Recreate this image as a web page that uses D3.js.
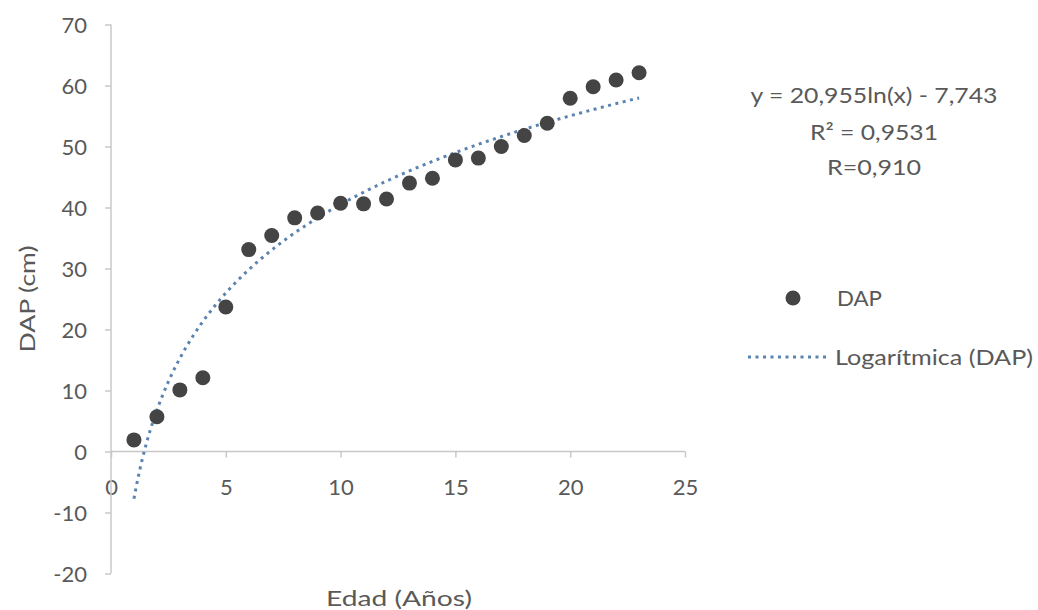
<!DOCTYPE html>
<html>
<head>
<meta charset="utf-8">
<script src="https://cdn.jsdelivr.net/npm/d3@7"></script>
<style>
  html, body { margin: 0; padding: 0; background: #fff; }
  svg { display: block; }
  text { font-family: "Lato", "Open Sans", sans-serif; fill: #595959; }
</style>
</head>
<body>
<svg id="chart" width="1038" height="610"></svg>
<script>
// Data
const edad = [1,2,3,4,5,6,7,8,9,10,11,12,13,14,15,16,17,18,19,20,21,22,23];
const dap  = [1.9,5.7,10.1,12.1,23.7,33.1,35.4,38.3,39.1,40.7,40.6,41.4,44.0,44.8,47.8,48.1,50.0,51.8,53.8,57.9,59.8,60.9,62.1];
const xTicks = [0,5,10,15,20,25];
const yTicks = [-20,-10,0,10,20,30,40,50,60,70];
// Trendline coefficients shown in the chart label
const trendA = 20.955, trendB = -7.743;
const trendX0 = 1, trendX1 = 23;
const eqLines = ["y = 20,955ln(x) - 7,743", "R² = 0,9531", "R=0,910"];
const legendLabels = ["DAP", "Logarítmica (DAP)"];
const xTitle = "Edad (Años)", yTitle = "DAP (cm)";

const svg = d3.select("#chart");
const x = d3.scaleLinear().domain([0,25]).range([111,685]);
const y = d3.scaleLinear().domain([-20,70]).range([573.5,24.5]);

const axisColor = "#c8c8c8";
const fontSize = 22;
const fmt = d => String(d);

// X axis at y=0
const gx = svg.append("g").attr("transform", `translate(0,${y(0)})`)
  .call(d3.axisBottom(x).tickValues(xTicks).tickSize(6).tickFormat(fmt));
gx.select(".domain").attr("stroke", axisColor).attr("stroke-width", 1.5).attr("d", `M${x(0)},0H${x(25)}`);
gx.selectAll(".tick line").attr("stroke", axisColor).attr("stroke-width", 1.5);
gx.selectAll(".tick text").attr("y", 43).attr("dy", null)
  .style("font-size", fontSize + "px").attr("fill", "#595959").attr("font-family", null);

// Y axis
const gy = svg.append("g").attr("transform", `translate(${x(0)},0)`)
  .call(d3.axisLeft(y).tickValues(yTicks).tickSize(6).tickFormat(fmt));
gy.select(".domain").attr("stroke", axisColor).attr("stroke-width", 1.5).attr("d", `M0,${y(-20)}V${y(70)}`);
gy.selectAll(".tick line").attr("stroke", axisColor).attr("stroke-width", 1.5);
gy.selectAll(".tick text").attr("x", -24).attr("dy", "0.36em")
  .style("font-size", fontSize + "px").attr("fill", "#595959").attr("font-family", null);

// Trendline
const trendPts = d3.range(trendX0, trendX1 + 0.0001, 0.05).map(v => [v, trendA * Math.log(v) + trendB]);
const line = d3.line().x(d => x(d[0])).y(d => y(d[1]));
svg.append("path").datum(trendPts).attr("d", line)
  .attr("fill", "none").attr("stroke", "#5b83b0").attr("stroke-width", 3)
  .attr("stroke-dasharray", "3 4.5");

// Points
svg.append("g").selectAll("circle").data(edad.map((e,i) => [e, dap[i]])).join("circle")
  .attr("cx", d => x(d[0])).attr("cy", d => y(d[1])).attr("r", 7.5)
  .attr("fill", "#444444");

// Axis titles
svg.append("text").attr("x", 399).attr("y", 606).attr("text-anchor", "middle")
  .style("font-size", fontSize + "px").attr("textLength", 146).attr("lengthAdjust", "spacingAndGlyphs").text(xTitle);
svg.append("text").attr("transform", "translate(35,299) rotate(-90)").attr("text-anchor", "middle")
  .style("font-size", fontSize + "px").attr("textLength", 107).attr("lengthAdjust", "spacingAndGlyphs").text(yTitle);

// Equation
const eqW = [247, 128, 94];
const eqY = [103, 140, 175];
eqLines.forEach((t, i) => {
  svg.append("text").attr("text-anchor", "middle").attr("x", 874).attr("y", eqY[i])
    .style("font-size", fontSize + "px").attr("textLength", eqW[i]).attr("lengthAdjust", "spacingAndGlyphs").text(t);
});

// Legend
svg.append("circle").attr("cx", 793).attr("cy", 298).attr("r", 7.5).attr("fill", "#444444");
svg.append("text").attr("x", 837).attr("y", 306).style("font-size", fontSize + "px")
  .attr("textLength", 45).attr("lengthAdjust", "spacingAndGlyphs").text(legendLabels[0]);
svg.append("line").attr("x1", 748).attr("x2", 826).attr("y1", 357).attr("y2", 357)
  .attr("stroke", "#5b83b0").attr("stroke-width", 3).attr("stroke-dasharray", "3 4.5");
svg.append("text").attr("x", 835).attr("y", 365).style("font-size", fontSize + "px")
  .attr("textLength", 198).attr("lengthAdjust", "spacingAndGlyphs").text(legendLabels[1]);
</script>
</body>
</html>
